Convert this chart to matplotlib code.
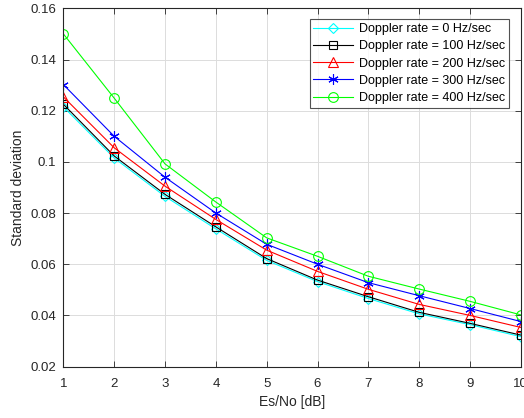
import matplotlib
matplotlib.use("Agg")
import matplotlib.pyplot as plt

plt.rcParams['font.family'] = ['Liberation Sans', 'DejaVu Sans']

snr_db = [1, 2, 3, 4, 5, 6, 7, 8, 9, 10]
std_0hz = [0.1215, 0.1015, 0.0865, 0.0738, 0.0615, 0.0532, 0.0466, 0.0406, 0.0364, 0.0317]
std_100hz = [0.1225, 0.1023, 0.0873, 0.0746, 0.0622, 0.0538, 0.0473, 0.0412, 0.0369, 0.0323]
std_200hz = [0.1254, 0.1055, 0.0905, 0.0775, 0.0655, 0.0572, 0.0502, 0.0443, 0.0400, 0.0353]
std_300hz = [0.1302, 0.1100, 0.0940, 0.0800, 0.0678, 0.0600, 0.0528, 0.0477, 0.0427, 0.0376]
std_400hz = [0.1500, 0.1249, 0.0992, 0.0843, 0.0703, 0.0631, 0.0553, 0.0503, 0.0455, 0.0402]

labels = ['Doppler rate = 0 Hz/sec', 'Doppler rate = 100 Hz/sec',
          'Doppler rate = 200 Hz/sec', 'Doppler rate = 300 Hz/sec',
          'Doppler rate = 400 Hz/sec']
series = [std_0hz, std_100hz, std_200hz, std_300hz, std_400hz]
colors = ['#00ffff', '#000000', '#ff0000', '#0000ff', '#00ff00']
# asterisk for the 300 Hz/sec curve: six-armed star of line segments
markers = ['D', 's', '^', (6, 2, 0), 'o']
msizes = [5.5, 6, 7, 7.5, 7]

fig = plt.figure(figsize=(5.24, 4.18), dpi=100)
ax = fig.add_axes([0.121, 0.123, 0.873, 0.857])

for y, c, m, ms, lab in zip(series, colors, markers, msizes, labels):
    ax.plot(snr_db, y, color=c, marker=m, markersize=ms, markerfacecolor='none',
            markeredgecolor=c, markeredgewidth=0.8, linewidth=0.8, label=lab)

ax.set_xlim(1, 10)
ax.set_ylim(0.02, 0.16)
ax.set_xticks(range(1, 11))
ax.set_yticks([0.02, 0.04, 0.06, 0.08, 0.1, 0.12, 0.14, 0.16])
ax.set_yticklabels(['0.02', '0.04', '0.06', '0.08', '0.1', '0.12', '0.14', '0.16'])

ax.grid(True, color='#dcdcdc', linewidth=0.7)
ax.set_axisbelow(True)
for s in ax.spines.values():
    s.set_color('#262626')
    s.set_linewidth(0.8)
ax.tick_params(direction='in', length=4, width=0.6, colors='#262626',
               labelsize=9.5, top=True, right=True)
ax.tick_params(axis='x', pad=8)
ax.tick_params(axis='y', pad=5)

ax.set_xlabel('Es/No [dB]', fontsize=10, color='#262626', labelpad=4)
ax.set_ylabel('Standard deviation', fontsize=10, color='#262626', labelpad=4)

leg = ax.legend(loc='upper right', bbox_to_anchor=(0.982, 0.98), fontsize=9,
                frameon=True, fancybox=False, edgecolor='#262626',
                handlelength=3.2, handletextpad=0.45, labelspacing=0.42,
                borderpad=0.3, borderaxespad=0.3)
leg.get_frame().set_linewidth(0.8)

fig.savefig('out.png', dpi=100)
